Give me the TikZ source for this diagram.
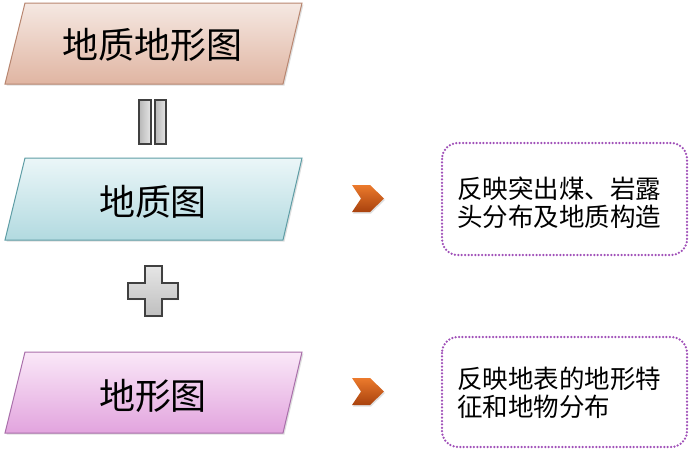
\documentclass[tikz,border=0pt]{standalone}
\usepackage{fontspec}
\newfontfamily\cjk{Noto Sans CJK SC}
\usepackage{tikz}
\usetikzlibrary{shadows}
\definecolor{peachtop}{HTML}{F5E8E2}
\definecolor{peachbot}{HTML}{E0B5A2}
\definecolor{peachline}{HTML}{B88670}
\definecolor{cyantop}{HTML}{EBF6F8}
\definecolor{cyanbot}{HTML}{B2DAE0}
\definecolor{cyanline}{HTML}{5E9DA5}
\definecolor{pinktop}{HTML}{FAE8F8}
\definecolor{pinkbot}{HTML}{E2A4DE}
\definecolor{pinkline}{HTML}{A96FAA}
\definecolor{dotline}{HTML}{A050B8}
\definecolor{chevtop}{HTML}{EC7A2C}
\definecolor{chevbot}{HTML}{A8420E}
\tikzstyle{para} = [line width=1pt, drop shadow={shadow xshift=1.5pt, shadow yshift=-1.5pt, opacity=0.25}]
\tikzstyle{bar} = [left color=black!28, right color=black!10, draw=black!75, line width=1.2pt, drop shadow={shadow xshift=1pt, shadow yshift=-1pt, opacity=0.2}]
\tikzstyle{cross} = [top color=black!10, bottom color=black!25, draw=black!75, line width=1.2pt, drop shadow={shadow xshift=1pt, shadow yshift=-1pt, opacity=0.2}]
\tikzstyle{chev} = [top color=chevtop, bottom color=chevbot, draw=none, drop shadow={shadow xshift=1pt, shadow yshift=-1.5pt, opacity=0.25}]
\tikzstyle{note} = [draw=dotline, line width=2.5pt, dash pattern=on 0pt off 3.4pt, line cap=round, rounded corners=16pt]
\tikzstyle{big} = [font=\cjk\fontsize{36}{40}\selectfont, inner sep=0]
\tikzstyle{small} = [font=\cjk\fontsize{25.5}{28}\selectfont, align=left, inner sep=0, anchor=west]

\begin{document}
\begin{tikzpicture}[x=1pt, y=-1pt]
\useasboundingbox (0,0) rectangle (689,450);
% three maps
\shade [para, top color=peachtop, bottom color=peachbot, draw=peachline] (25,3) -- (302,3) -- (283,84) -- (5,84) -- cycle;
\shade [para, top color=cyantop, bottom color=cyanbot, draw=cyanline] (25,158) -- (302,158) -- (283,240) -- (5,240) -- cycle;
\shade [para, top color=pinktop, bottom color=pinkbot, draw=pinkline] (25,352) -- (302,352) -- (283,433) -- (5,433) -- cycle;
\node [big] (map) at (153,45) {地质地形图};
\node [big] (geo) at (153,202) {地质图};
\node [big] (topo) at (153,396) {地形图};
% equals and plus
\shade [bar] (139,100) rectangle (151,144);
\shade [bar] (155,100) rectangle (166,144);
\shade [cross] (145,266) -- (162,266) -- (162,283) -- (178,283) -- (178,299) -- (162,299) -- (162,316) -- (145,316) -- (145,299) -- (128,299) -- (128,283) -- (145,283) -- cycle;
% chevrons
\shade [chev] (352,185) -- (370,185) -- (384,198.5) -- (370,212) -- (352,212) -- (361,198.5) -- cycle;
\shade [chev] (352,378) -- (370,378) -- (384,391.5) -- (370,405) -- (352,405) -- (361,391.5) -- cycle;
% notes
\draw [note] (442,143) rectangle (687,255);
\draw [note] (442,337) rectangle (687,447);
\node [small] (geonote) at (457,203) {反映突出煤、岩露\\头分布及地质构造};
\node [small] (toponote) at (457,393) {反映地表的地形特\\征和地物分布};
\end{tikzpicture}
\end{document}
